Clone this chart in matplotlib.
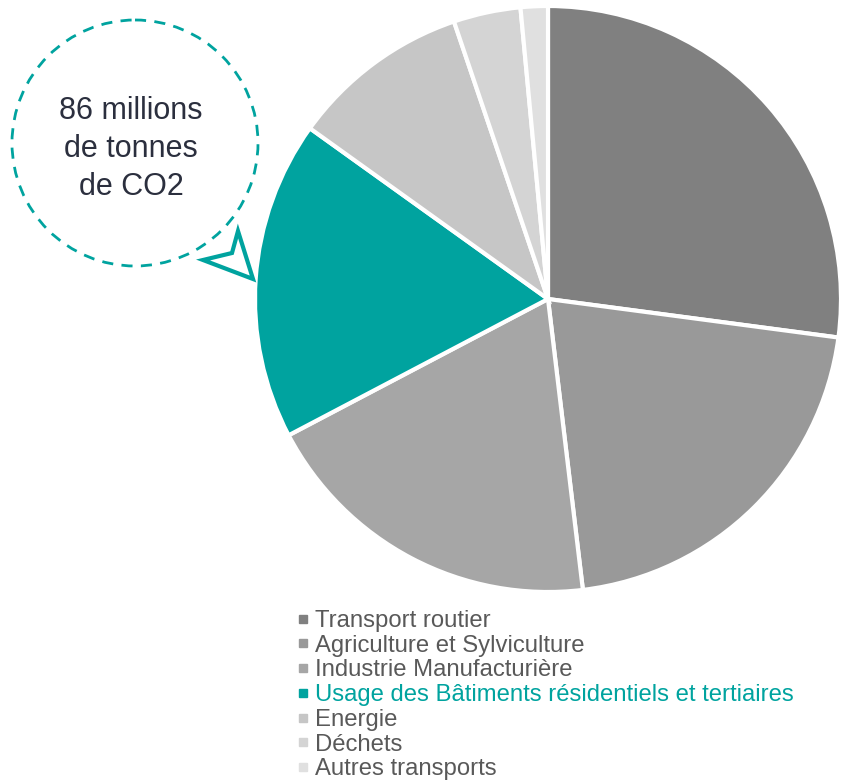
import matplotlib
matplotlib.use("Agg")
import matplotlib.pyplot as plt
from matplotlib.patches import Circle, Polygon
from matplotlib.lines import Line2D

plt.rcParams['font.family'] = ['Liberation Sans', 'DejaVu Sans']

categories = ["Transport routier", "Agriculture et Sylviculture", "Industrie Manufacturière",
              "Usage des Bâtiments résidentiels et tertiaires", "Energie", "Déchets",
              "Autres transports"]
values = [27.1, 21.0, 19.2, 17.6, 9.9, 3.7, 1.5]
colors = ["#808080", "#999999", "#a6a6a6", "#00a39f", "#c6c6c6", "#d4d4d4", "#e0e0e0"]
label_colors = ["#595959", "#595959", "#595959", "#00a39f", "#595959", "#595959", "#595959"]
callout_text = "86 millions\nde tonnes\nde CO2"

W, H = 844, 783
fig = plt.figure(figsize=(W / 100, H / 100), dpi=100)

# pie axes (center ~ (548,299), radius ~293 px)
cx, cy, r = 548, 299, 293
ax = fig.add_axes([(cx - r) / W, (H - cy - r) / H, 2 * r / W, 2 * r / H])
ax.pie(values, colors=colors, startangle=90, counterclock=False,
       wedgeprops=dict(edgecolor="white", linewidth=3))
ax.set_xlim(-1, 1)
ax.set_ylim(-1, 1)
ax.axis("off")

# overlay axes in pixel coords for callout
ov = fig.add_axes([0, 0, 1, 1])
ov.set_xlim(0, W)
ov.set_ylim(H, 0)
ov.axis("off")
ov.add_patch(Circle((135, 143), 123, fill=False, edgecolor="#00a39f",
                    linewidth=2, linestyle=(0, (4, 3))))
ov.add_patch(Polygon([(238, 231), (232, 253), (203, 260), (253, 279)], closed=True,
                     fill=False, edgecolor="#00a39f", linewidth=3, joinstyle="miter"))
ov.text(131, 149, callout_text, ha="center", va="center", fontsize=22,
        color="#2b2f3e", linespacing=1.33)

handles = [Line2D([], [], marker="s", linestyle="", markersize=6,
                  markerfacecolor=c, markeredgecolor=c) for c in colors]
leg = fig.legend(handles, categories, loc="upper left",
                 bbox_to_anchor=(298 / W, 1 - 610 / H), frameon=False,
                 fontsize=17.2, handlelength=0.45, handletextpad=0.28,
                 labelspacing=0.115, borderpad=0, borderaxespad=0)
for t, c in zip(leg.get_texts(), label_colors):
    t.set_color(c)

fig.savefig("out.png", dpi=100)
